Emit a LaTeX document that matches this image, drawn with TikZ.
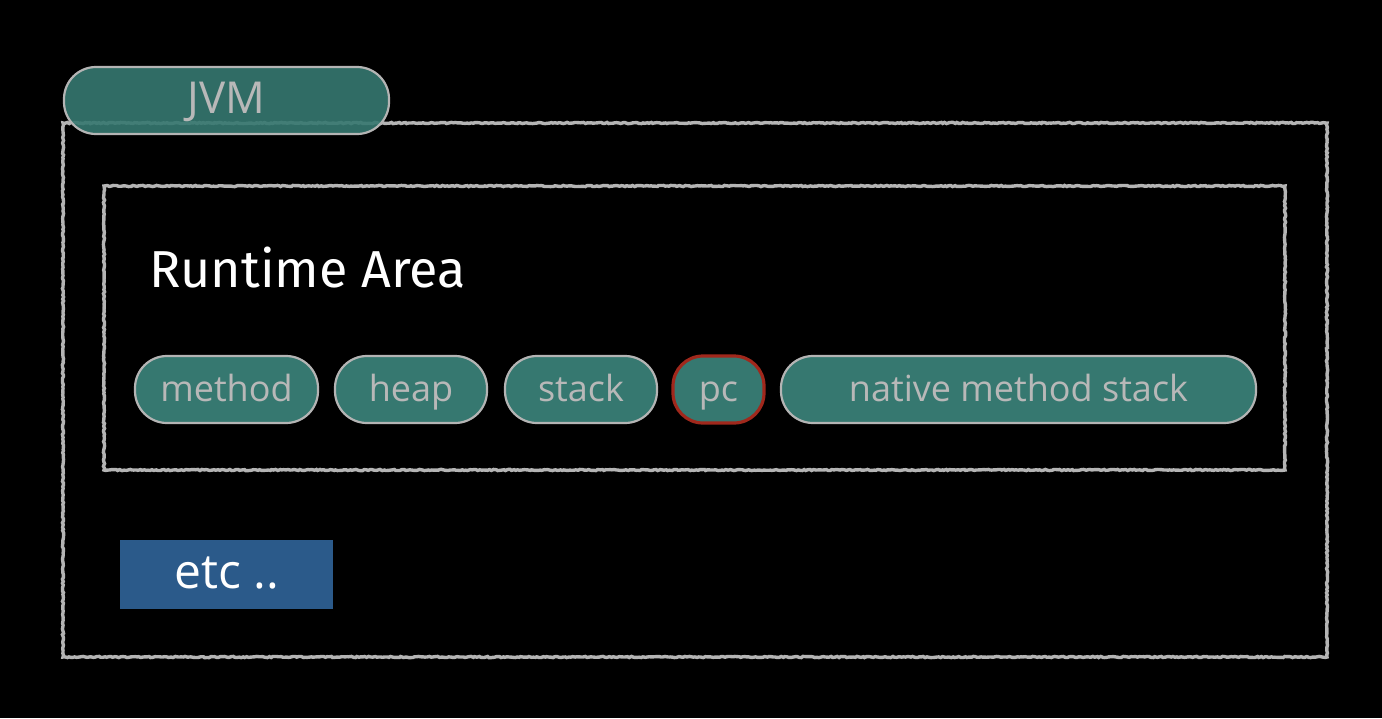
\documentclass[tikz,border=0pt]{standalone}
\usepackage{fontspec}
\setmainfont{Open Sans}
\newfontfamily\titlefont{Fira Sans}
\usetikzlibrary{decorations.pathmorphing}
\definecolor{teal}{HTML}{367870}
\definecolor{chalk}{HTML}{B4B4B4}
\definecolor{pilltext}{HTML}{B8B8B8}
\definecolor{etcblue}{HTML}{2B5A8A}
\definecolor{pcred}{HTML}{A0281C}
\begin{document}
\begin{tikzpicture}[x=1pt,y=-1pt,
  chalkbox/.style={draw=chalk,line width=3.4pt,decorate,decoration={random steps,segment length=2pt,amplitude=0.6pt}},
  pill/.style={draw=chalk,line width=2.2pt,fill=teal,rounded corners=32pt,text=pilltext,font=\fontsize{36}{40}\selectfont,inner sep=0pt,text height=27pt,text depth=4pt},
]
\fill[black] (0,0) rectangle (1382,718);
\useasboundingbox (0,0) rectangle (1382,718);
% outer and inner frames
\draw[chalkbox] (63,123) rectangle (1327,657);
\draw[chalkbox] (104,186) rectangle (1285,470);
% JVM tab
\node[pill,fill opacity=0.9,text opacity=1,minimum width=325pt,minimum height=67pt,font=\fontsize{44}{48}\selectfont,text height=30pt,text depth=5pt] (jvm) at (226.5,100.5) {JVM};
% title
\node[anchor=base west,text=white,font=\titlefont\fontsize{52}{56}\selectfont,inner sep=0pt] (title) at (149,287) {Runtime Area};
% runtime pills
\node[pill,minimum width=183pt,minimum height=67pt] (method) at (226.5,389.5) {method};
\node[pill,minimum width=152pt,minimum height=67pt] (heap) at (411,389.5) {heap};
\node[pill,minimum width=152pt,minimum height=67pt] (stack) at (581,389.5) {stack};
\node[pill,draw=pcred,line width=3.2pt,minimum width=91pt,minimum height=67pt,rounded corners=30pt] (pc) at (718.5,389.5) {pc};
\node[pill,minimum width=475pt,minimum height=67pt] (native) at (1018.5,389.5) {native method stack};
% etc box
\node[fill=etcblue,text=white,minimum width=213pt,minimum height=69pt,inner sep=0pt,font=\fontsize{48}{52}\selectfont,text height=34pt,text depth=6pt] (etc) at (226.5,574.5) {etc ..};
\end{tikzpicture}
\end{document}
